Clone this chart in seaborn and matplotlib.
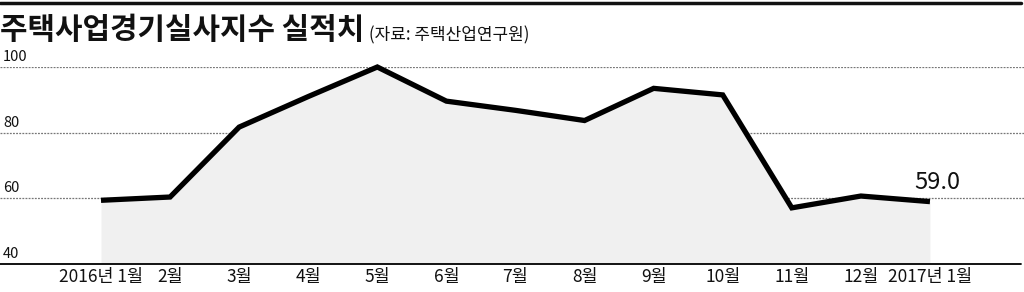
import matplotlib
matplotlib.use("Agg")
import matplotlib.pyplot as plt
import seaborn as sns
import pandas as pd
import numpy as np

months = ["2016년 1월", "2월", "3월", "4월", "5월", "6월", "7월", "8월",
          "9월", "10월", "11월", "12월", "2017년 1월"]
values = [59.4, 60.4, 81.7, 91.0, 100.0, 89.6, 86.8, 83.7, 93.5, 91.5, 57.1, 60.7, 59.0]
y_ticks = [40, 60, 80, 100]
title = "주택사업경기실사지수 실적치"
source = "(자료: 주택산업연구원)"
last_label = "59.0"

sns.set_theme(style="white")
plt.rcParams['font.family'] = ['Noto Sans CJK KR', 'DejaVu Sans']

df = pd.DataFrame({"idx": np.arange(len(months)), "value": values})

fig = plt.figure(figsize=(10.24, 2.92), dpi=100)
ax = fig.add_axes([0, (292 - 264) / 292, 1, (264 - 67) / 292])

# light fill under the line
ax.fill_between(df["idx"], df["value"], 40, color="#f0f0f0", linewidth=0, zorder=1)

# dotted gridlines
for yv in y_ticks[1:]:
    ax.axhline(yv, color="#777777", linestyle=(0, (1.5, 1)), linewidth=0.9, zorder=0.5)

sns.lineplot(data=df, x="idx", y="value", ax=ax, color="black", linewidth=3.8,
             zorder=3, clip_on=False)
for l in ax.lines[-1:]:
    l.set_solid_joinstyle("miter")
    l.set_solid_capstyle("butt")

step = 69.08
ax.set_xlim(-101 / step, (1024 - 101) / step)
ax.set_ylim(40, 100)

for s in ["top", "right", "left", "bottom"]:
    ax.spines[s].set_visible(False)
ax.axhline(40, xmin=0, xmax=1021 / 1024, color="black", linewidth=1.3, zorder=4, clip_on=False)

ax.set_xticks(df["idx"])
ax.set_xticklabels(months, fontsize=12.5, color="#111111", fontweight="medium")
ax.tick_params(axis="x", direction="in", length=7, width=0.9, color="#888888", pad=3)
ax.set_yticks([])
ax.set_xlabel("")
ax.set_ylabel("")

for yv in y_ticks:
    ax.text(3 / 1024, yv + 0.9, str(yv), transform=ax.get_yaxis_transform(),
            ha="left", va="bottom", fontsize=10.5, color="#111111", fontweight="medium")

ax.text(df["idx"].iloc[-1] + 0.1, values[-1] + 2.2, last_label, ha="center", va="bottom",
        fontsize=17, color="#111111", fontweight="medium")

# top rule
fig.add_artist(plt.Line2D([0, 1021 / 1024], [1 - 2.5 / 292, 1 - 2.5 / 292],
                          transform=fig.transFigure, color="#111111", linewidth=2.5))

fig.text(0 / 1024, 1 - 30 / 292, title, ha="left", va="center", fontsize=21.5,
         fontweight="bold", color="#111111")
fig.text(369 / 1024, 1 - 35 / 292, source, ha="left", va="center", fontsize=12.2,
         color="#111111", fontweight="medium")

fig.savefig("out.png", dpi=100)
